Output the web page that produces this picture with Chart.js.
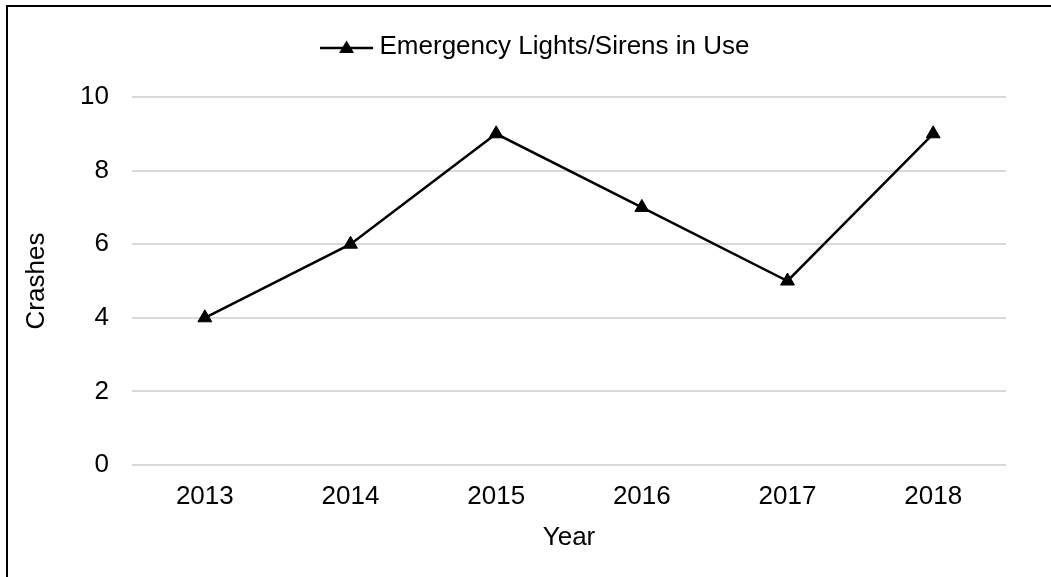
<!DOCTYPE html>
<html>
<head>
<meta charset="utf-8">
<script src="https://cdn.jsdelivr.net/npm/chart.js@4/dist/chart.umd.min.js"></script>
<style>
  body { margin: 0; background: #fff; }
  #wrap { position: relative; width: 1051px; height: 577px; }
  #frame { position: absolute; left: 6px; top: 5px; right: 0; bottom: 0;
           border-top: 2px solid #000; border-left: 2px solid #000; pointer-events: none; }
</style>
</head>
<body>
<div id="wrap">
  <canvas id="lineChart" width="1051" height="577"></canvas>
  <div id="frame"></div>
</div>
<script>
var years = ['2013', '2014', '2015', '2016', '2017', '2018'];   // X 軸
var crashes = [4, 6, 9, 7, 5, 9];                                 // Y 值
var seriesName = 'Emergency Lights/Sirens in Use';
var yMin = 0, yMax = 10, yStep = 2;

var FONT = "'Liberation Sans', Arial, sans-serif";

function legendIcon() {            // 圖例：線 + 三角形
  var c = document.createElement('canvas');
  c.width = 53; c.height = 16;
  var g = c.getContext('2d');
  g.strokeStyle = '#000';
  g.lineWidth = 2.5;
  g.beginPath(); g.moveTo(0, 9); g.lineTo(53, 9); g.stroke();
  g.fillStyle = '#000';
  g.beginPath(); g.moveTo(26.5, 1.5); g.lineTo(34, 14); g.lineTo(19, 14); g.closePath(); g.fill();
  return c;
}

var legendTweak = {                // 圖例往右、與圖區拉開
  id: 'legendTweak',
  beforeInit: function (chart) {
    var fit = chart.legend.fit;
    chart.legend.fit = function () {
      fit.call(this);
      this.height += 27;
    };
  },
  afterLayout: function (chart) {
    chart.legend.left += 27;
    chart.legend.right += 27;
  }
};

function init() {
  var ctx = document.getElementById('lineChart').getContext('2d');
  var icon = legendIcon();

  new Chart(ctx, {
    type: 'line',
    data: {
      labels: years,
      datasets: [{
        label: seriesName,
        data: crashes,
        borderColor: '#000',
        backgroundColor: '#000',
        borderWidth: 2.5,
        pointStyle: 'triangle',
        pointRadius: 8,
        pointBorderWidth: 1,
        tension: 0
      }]
    },
    options: {
      responsive: false,
      animation: false,
      layout: { padding: { top: 24, right: 45, left: 16, bottom: 0 } },
      plugins: {
        tooltip: { enabled: false },
        legend: {
          position: 'top',
          labels: {
            usePointStyle: true,
            pointStyleWidth: 40,
            padding: 10,
            color: '#000',
            font: { family: FONT, size: 26 },
            generateLabels: function (chart) {
              return [{
                text: seriesName,
                pointStyle: icon,
                fillStyle: '#000',
                strokeStyle: '#000',
                lineWidth: 0,
                fontColor: '#000',
                datasetIndex: 0
              }];
            }
          }
        }
      },
      scales: {
        x: {
          offset: true,
          grid: { display: false },
          border: { display: false },
          ticks: { color: '#000', padding: 8, font: { family: FONT, size: 26 } },
          title: { display: true, text: 'Year', color: '#000', padding: { top: 4, bottom: 24 },
                   font: { family: FONT, size: 26 } },
          afterFit: function (axis) { axis.height = 112; }
        },
        y: {
          min: yMin, max: yMax,
          ticks: { stepSize: yStep, color: '#000', padding: 23, font: { family: FONT, size: 26 } },
          grid: { color: '#d9d9d9', lineWidth: 2, drawTicks: false },
          border: { display: false },
          title: { display: true, text: 'Crashes', color: '#000', padding: 5,
                   font: { family: FONT, size: 26 } },
          afterFit: function (axis) { axis.width = 116; }
        }
      }
    },
    plugins: [legendTweak]
  });
}

init();
</script>
</body>
</html>
